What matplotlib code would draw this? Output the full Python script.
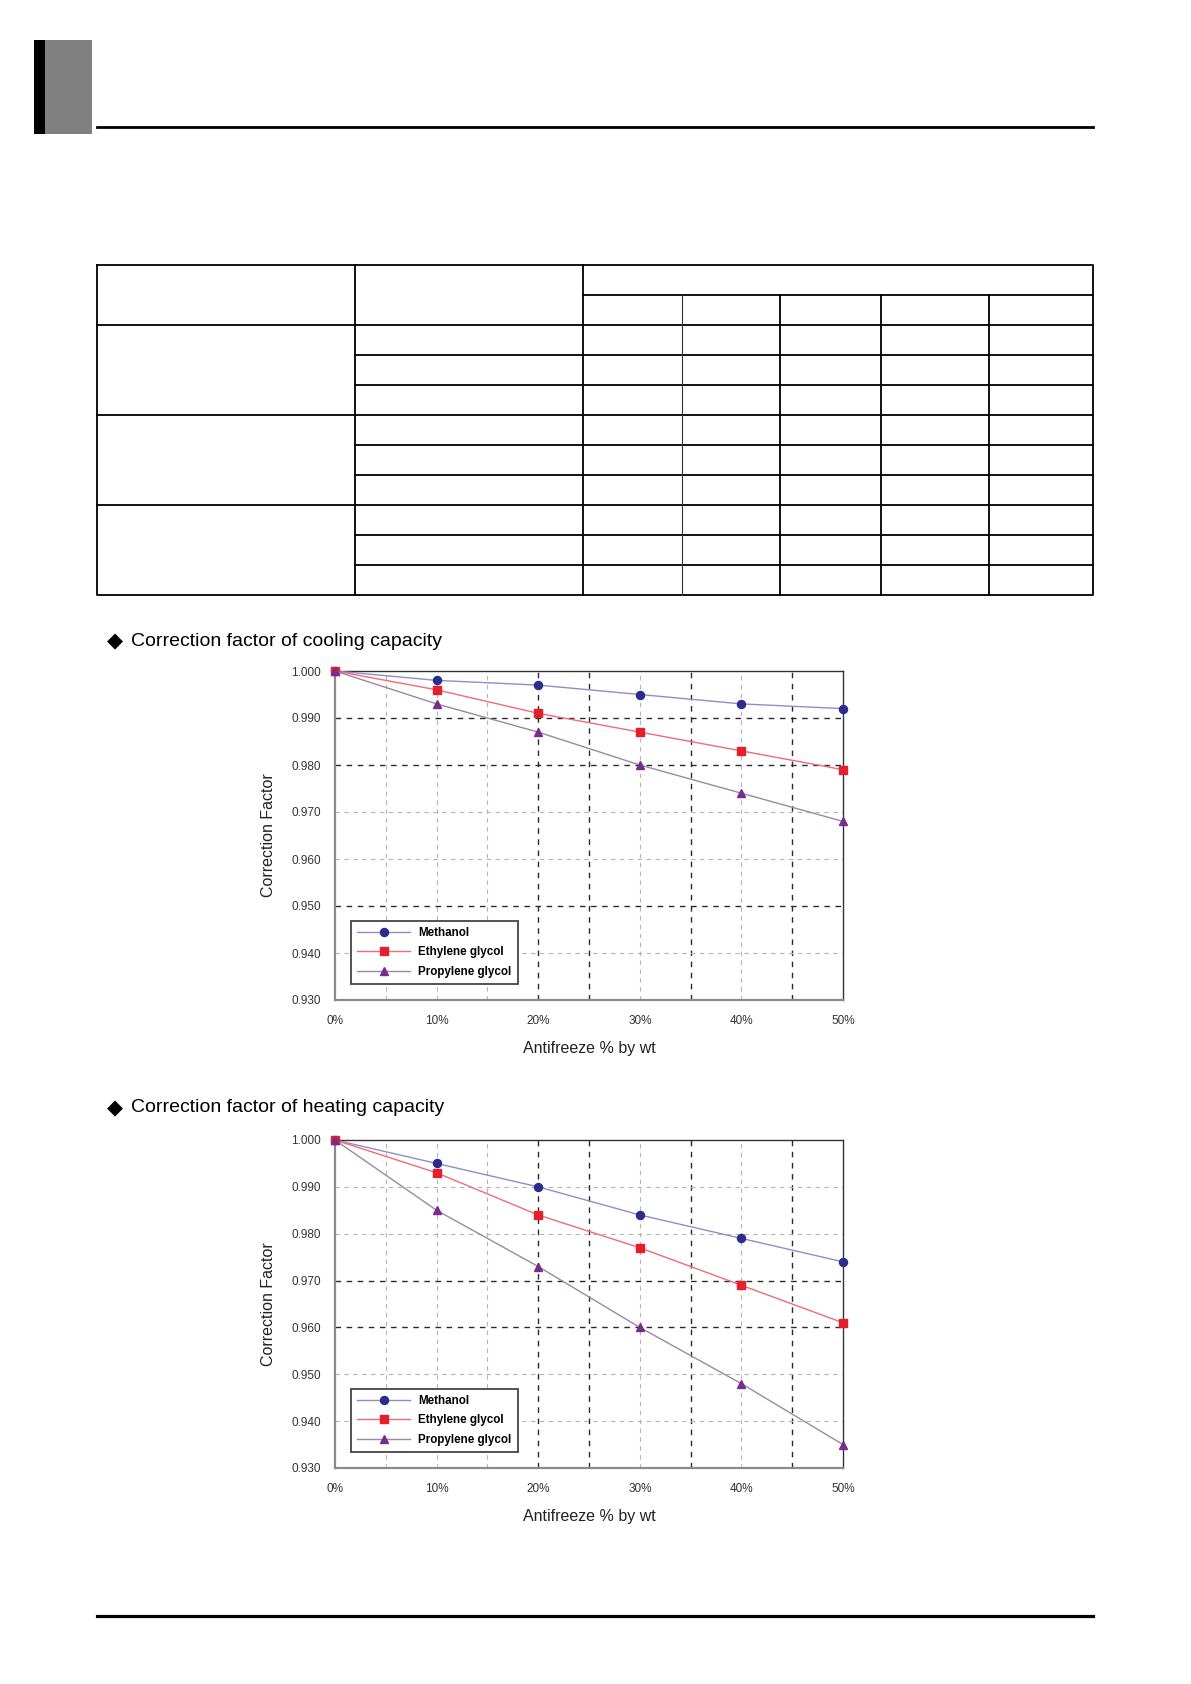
import matplotlib
matplotlib.use("Agg")
import matplotlib.pyplot as plt
from matplotlib.lines import Line2D
from matplotlib.patches import Rectangle

# ---------------- data ----------------
antifreeze_pct = [0, 10, 20, 30, 40, 50]
x_tick_labels = ["0%", "10%", "20%", "30%", "40%", "50%"]
y_ticks = [0.930, 0.940, 0.950, 0.960, 0.970, 0.980, 0.990, 1.000]
series_names = ["Methanol", "Ethylene glycol", "Propylene glycol"]

cooling_methanol = [1.000, 0.998, 0.997, 0.995, 0.993, 0.992]
cooling_ethylene = [1.000, 0.996, 0.991, 0.987, 0.983, 0.979]
cooling_propylene = [1.000, 0.993, 0.987, 0.980, 0.974, 0.968]

heating_methanol = [1.000, 0.995, 0.990, 0.984, 0.979, 0.974]
heating_ethylene = [1.000, 0.993, 0.984, 0.977, 0.969, 0.961]
heating_propylene = [1.000, 0.985, 0.973, 0.960, 0.948, 0.935]

cooling_title = "Correction factor of cooling capacity"
heating_title = "Correction factor of heating capacity"
x_label = "Antifreeze % by wt"
y_label = "Correction Factor"

# ---------------- styles ----------------
FONT = ["Liberation Sans", "DejaVu Sans"]
plt.rcParams["font.family"] = FONT

line_colors = ["#8e8ec8", "#f26a78", "#9a88a8"]
marker_colors = ["#2c2c8a", "#e3202c", "#7a2c8c"]
markers = ["o", "s", "^"]
marker_sizes = [5.8, 5.6, 6.0]

W, H = 1191, 1684
fig = plt.figure(figsize=(W / 100, H / 100), dpi=100)

# page overlay in pixel coordinates
page = fig.add_axes([0, 0, 1, 1], zorder=0)
page.set_xlim(0, W)
page.set_ylim(H, 0)
page.axis("off")

# header block and rules
page.add_patch(Rectangle((34, 40), 11, 94, facecolor="black", edgecolor="none"))
page.add_patch(Rectangle((45, 40), 47, 94, facecolor="#808080", edgecolor="none"))
page.add_line(Line2D([97, 1093], [127, 127], color="black", lw=2.0))
page.add_line(Line2D([97, 1093], [1615.5, 1615.5], color="black", lw=2.3))

# empty table grid
tx = [97, 355, 583, 682, 780, 881, 989, 1093]
ty = [265, 295, 325, 355, 385, 415, 445, 475, 505, 535, 565, 595]
tlw = 1.3
page.add_line(Line2D([tx[0], tx[-1], tx[-1], tx[0], tx[0]],
                     [ty[0], ty[0], ty[-1], ty[-1], ty[0]], color="black", lw=tlw))
page.add_line(Line2D([tx[2], tx[-1]], [ty[1], ty[1]], color="black", lw=tlw))
for i in range(2, len(ty) - 1):
    x0 = tx[0] if i in (2, 5, 8) else tx[1]
    page.add_line(Line2D([x0, tx[-1]], [ty[i], ty[i]], color="black", lw=tlw))
page.add_line(Line2D([tx[1], tx[1]], [ty[0], ty[-1]], color="black", lw=tlw))
page.add_line(Line2D([tx[2], tx[2]], [ty[0], ty[-1]], color="black", lw=tlw))
for j in range(3, len(tx) - 1):
    lw = 0.8 if j == 3 else tlw
    col = "#333333" if j == 3 else "black"
    page.add_line(Line2D([tx[j], tx[j]], [ty[1], ty[-1]], color=col, lw=lw))

# section titles
page.text(107, 641, "\u25c6", fontsize=15, family=["DejaVu Sans"], va="center", ha="left")
page.text(131, 641, cooling_title, fontsize=14, va="center", ha="left")
page.text(107, 1108, "\u25c6", fontsize=15, family=["DejaVu Sans"], va="center", ha="left")
page.text(131, 1108, heating_title, fontsize=14, va="center", ha="left")


def make_chart(rect, series, dark_h, light_h):
    ax = fig.add_axes(rect, zorder=2)
    ax.set_xlim(0, 50)
    ax.set_ylim(0.930, 1.000)
    dark_v = [20, 25, 35, 45]
    light_v = [5, 10, 15, 30, 40]
    for v in light_v:
        ax.axvline(v, color="#b5b5b5", lw=0.8, ls=(0, (4, 4)), zorder=1)
    for v in dark_v:
        ax.axvline(v, color="#2a2a2a", lw=1.0, ls=(0, (4, 4)), zorder=1)
    for v in light_h:
        ax.axhline(v, color="#b5b5b5", lw=0.8, ls=(0, (4, 4)), zorder=1)
    for v in dark_h:
        ax.axhline(v, color="#2a2a2a", lw=1.0, ls=(0, (4, 4)), zorder=1)

    for k, (name, vals) in enumerate(zip(series_names, series)):
        ax.plot(antifreeze_pct, vals, color=line_colors[k], lw=1.0,
                marker=markers[k], markersize=marker_sizes[k],
                markerfacecolor=marker_colors[k], markeredgecolor=marker_colors[k],
                label=name, zorder=3 + k, clip_on=False)

    ax.set_xticks(antifreeze_pct)
    ax.set_xticklabels(x_tick_labels)
    ax.set_yticks(y_ticks)
    ax.set_yticklabels([f"{v:.3f}" for v in y_ticks])
    ax.tick_params(length=0, labelsize=8.5, labelcolor="#333333", pad=10)
    ax.tick_params(axis="x", pad=10.5)

    for s in ("left", "bottom"):
        ax.spines[s].set_color("#8a8a8a")
        ax.spines[s].set_linewidth(1.6)
    for s in ("top", "right"):
        ax.spines[s].set_color("#333333")
        ax.spines[s].set_linewidth(1.0)

    ax.set_ylabel(y_label, fontsize=11.5, color="#222222")
    ax.yaxis.set_label_coords(-0.116, 0.5)
    ax.set_xlabel(x_label, fontsize=11.5, color="#222222")
    ax.xaxis.set_label_coords(0.5, -0.125)

    leg = ax.legend(loc="lower left", bbox_to_anchor=(0.0315, 0.0486),
                    borderaxespad=0, fancybox=False, framealpha=1,
                    edgecolor="#444444", handlelength=4.5, handletextpad=0.7,
                    labelspacing=0.62, borderpad=0.55,
                    prop={"family": FONT, "size": 8.4, "weight": "bold"})
    leg.get_frame().set_linewidth(1.3)
    leg.set_zorder(10)
    return ax


ax1 = make_chart([335 / W, 1 - 1000 / H, 508 / W, 329 / H],
                 [cooling_methanol, cooling_ethylene, cooling_propylene],
                 dark_h=[0.990, 0.980, 0.950], light_h=[0.970, 0.960, 0.940])
ax2 = make_chart([335 / W, 1 - 1468 / H, 508 / W, 328 / H],
                 [heating_methanol, heating_ethylene, heating_propylene],
                 dark_h=[0.970, 0.960], light_h=[0.990, 0.980, 0.950, 0.940])

fig.savefig("out.png", dpi=100, facecolor="white")
